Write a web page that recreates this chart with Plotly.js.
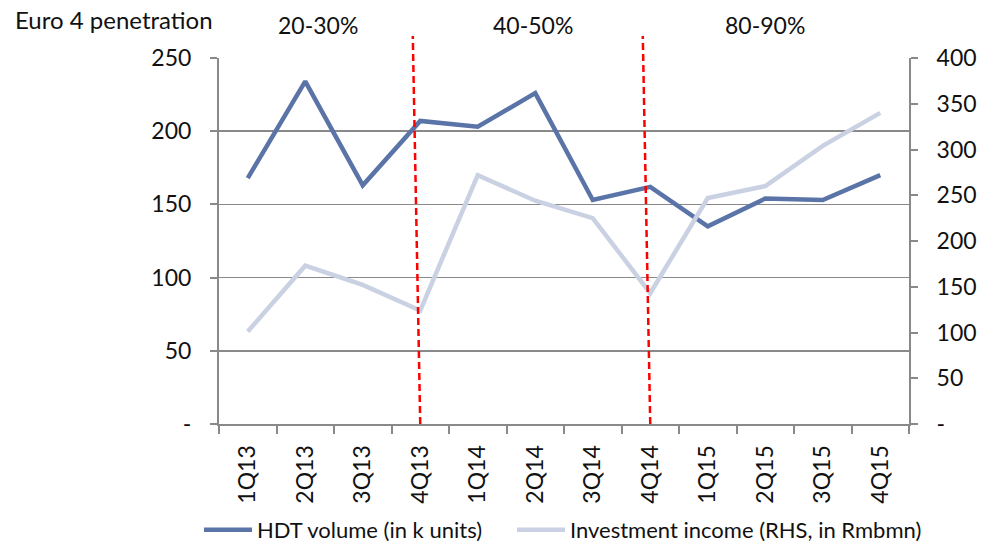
<!DOCTYPE html>
<html>
<head>
<meta charset="utf-8">
<script src="https://cdn.plot.ly/plotly-3.0.1.min.js"></script>
<style>html,body{margin:0;padding:0;background:#fff;}#chart{width:984px;height:544px;}</style>
</head>
<body>
<div id="chart"></div>
<script>
const categories = ['1Q13','2Q13','3Q13','4Q13','1Q14','2Q14','3Q14','4Q14','1Q15','2Q15','3Q15','4Q15'];
const hdtVolume = [168, 234, 163, 207, 203, 226, 153, 162, 135, 154, 153, 170];
const investmentIncome = [101, 173, 152, 124, 272, 244, 225, 143, 247, 260, 304, 340];
const leftTickVals = [0, 50, 100, 150, 200, 250];
const leftTickText = ['-', '50', '100', '150', '200', '250'];
const rightTickVals = [0, 50, 100, 150, 200, 250, 300, 350, 400];
const rightTickText = ['-', '50', '100', '150', '200', '250', '300', '350', '400'];
const dividers = ['4Q13', '4Q14'];
const phaseLabels = ['20-30%', '40-50%', '80-90%'];
const seriesNames = ['HDT volume (in k units)', 'Investment income (RHS, in Rmbmn)'];

const FONT = 'Lato, "Open Sans", sans-serif';
const FS = 23;
const GRAY = '#898989';

const traces = [
  {x: categories, y: hdtVolume, name: seriesNames[0], type: 'scatter', mode: 'lines',
   line: {color: '#5A74A8', width: 4.5}, yaxis: 'y', legend: 'legend'},
  {x: categories, y: investmentIncome, name: seriesNames[1], type: 'scatter', mode: 'lines',
   line: {color: '#C9D1E2', width: 4.5}, yaxis: 'y2', legend: 'legend2'}
];

const shapes = dividers.map(d => {
  const i = categories.indexOf(d);
  return {type: 'line', xref: 'x', yref: 'paper', x0: i, y0: 0, x1: i - 0.13, y1: 1.06,
          line: {color: '#FF0000', width: 2.5, dash: '7px,4px'}};
});

const phaseX = [0.143, 0.455, 0.791];
const annotations = phaseLabels.map((t, k) => ({
  text: t, xref: 'paper', yref: 'paper', x: phaseX[k], y: 1.09, showarrow: false,
  xanchor: 'center', yanchor: 'middle', font: {family: FONT, size: FS, color: '#111'}
}));
annotations.push({text: 'Euro 4 penetration', xref: 'paper', yref: 'paper', x: -0.2986, y: 1.104,
  showarrow: false, xanchor: 'left', yanchor: 'middle', font: {family: FONT, size: 24, color: '#111'}});

const legendBase = {orientation: 'h', xref: 'container', yref: 'container', xanchor: 'left',
  y: 0.026, yanchor: 'middle', itemwidth: 48, bgcolor: 'rgba(0,0,0,0)',
  font: {family: FONT, size: 22, color: '#111'}};

const layout = {
  width: 984, height: 544,
  margin: {l: 219, r: 75, t: 58, b: 120, autoexpand: false},
  paper_bgcolor: '#fff', plot_bgcolor: '#fff',
  font: {family: FONT, size: FS, color: '#111'},
  showlegend: true,
  legend: Object.assign({}, legendBase, {x: 199 / 984}),
  legend2: Object.assign({}, legendBase, {x: 512 / 984}),
  xaxis: {type: 'category', range: [-0.5, 11.5], showline: true, linecolor: GRAY, linewidth: 2,
          ticks: 'outside', tickson: 'boundaries', ticklen: 8, tickcolor: GRAY, tickwidth: 2,
          tickangle: -90, showgrid: false, zeroline: false, automargin: false, ticklabelstandoff: 10,
          tickfont: {family: FONT, size: FS, color: '#111'}},
  yaxis: {range: [0, 250], tickvals: leftTickVals, ticktext: leftTickText, showline: true,
          linecolor: GRAY, linewidth: 2, ticks: 'outside', ticklen: 7, tickcolor: GRAY, tickwidth: 2,
          showgrid: true, gridcolor: GRAY, gridwidth: 1.5, zeroline: false, ticklabelstandoff: 14,
          automargin: false, tickfont: {family: FONT, size: FS, color: '#111'}},
  yaxis2: {range: [0, 400], tickvals: rightTickVals, ticktext: rightTickText, overlaying: 'y', side: 'right',
           showline: true, linecolor: GRAY, linewidth: 2, ticks: 'outside', ticklen: 7, tickcolor: GRAY,
           tickwidth: 2, showgrid: false, zeroline: false, ticklabelstandoff: 14, automargin: false,
           tickfont: {family: FONT, size: FS, color: '#111'}},
  shapes: shapes,
  annotations: annotations
};

Plotly.newPlot('chart', traces, layout, {displayModeBar: false, staticPlot: true});
</script>
</body>
</html>
